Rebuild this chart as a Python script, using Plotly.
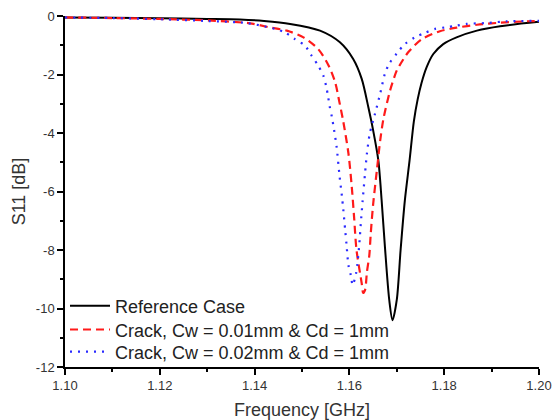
import plotly.graph_objects as go

# Frequency [GHz] and S11 [dB] values
ref_f = [1.100, 1.110, 1.120, 1.130, 1.1369, 1.142, 1.1475, 1.1538, 1.158, 1.1608, 1.1626,
         1.164, 1.165, 1.1661, 1.1668, 1.1675, 1.1684, 1.1691, 1.170, 1.1708, 1.1717,
         1.1727, 1.1736, 1.1744, 1.1752, 1.1763, 1.1777, 1.1798, 1.1826, 1.1869, 1.1918, 1.200]
ref_s = [-0.05, -0.06, -0.08, -0.10, -0.12, -0.17, -0.27, -0.50, -0.90, -1.47, -2.15,
         -3.12, -3.90, -4.93, -6.30, -7.90, -9.70, -10.40, -9.70, -8.00, -6.30,
         -4.93, -3.60, -2.85, -2.30, -1.75, -1.30, -0.96, -0.73, -0.50, -0.35, -0.20]

cw1_f = [1.100, 1.110, 1.120, 1.130, 1.139, 1.1432, 1.1468, 1.1503, 1.1534, 1.1556, 1.157,
         1.1579, 1.1587, 1.1598, 1.1605, 1.161, 1.1615, 1.1626, 1.1629, 1.1633, 1.1637,
         1.1642, 1.1645, 1.165, 1.1658, 1.1665, 1.1672, 1.1686, 1.170, 1.1707, 1.1724,
         1.1753, 1.1791, 1.1826, 1.1869, 1.1918, 1.1974, 1.200]
cw1_s = [-0.05, -0.07, -0.10, -0.15, -0.25, -0.39, -0.50, -0.73, -1.13, -1.69, -2.27,
         -2.95, -3.60, -4.70, -5.84, -6.90, -8.00, -9.14, -9.47, -9.37, -8.75,
         -8.18, -7.45, -6.45, -5.27, -4.25, -3.50, -2.54, -1.86, -1.66, -1.24,
         -0.79, -0.52, -0.40, -0.30, -0.23, -0.18, -0.17]

cw2_f = [1.100, 1.110, 1.120, 1.130, 1.1383, 1.1422, 1.1443, 1.1464, 1.1485, 1.1506, 1.152,
         1.1534, 1.1545, 1.1551, 1.1555, 1.1558, 1.1563, 1.1566, 1.1573, 1.1579, 1.1584,
         1.1587, 1.1591, 1.1594, 1.1598, 1.1603, 1.1607, 1.1614, 1.1617, 1.1621, 1.1624,
         1.1628, 1.1633, 1.1637, 1.1643, 1.1654, 1.1665, 1.1675, 1.1684, 1.170, 1.1717,
         1.1738, 1.1759, 1.1781, 1.1802, 1.1826, 1.1847, 1.189, 1.1932, 1.200]
cw2_s = [-0.05, -0.07, -0.11, -0.17, -0.24, -0.36, -0.44, -0.56, -0.79, -1.01, -1.35,
         -1.69, -2.04, -2.40, -2.75, -3.06, -3.45, -3.73, -4.47, -5.44, -6.13,
         -6.60, -7.30, -7.83, -8.52, -8.86, -9.20, -8.80, -8.46, -7.78, -7.10,
         -6.30, -5.38, -4.70, -4.02, -3.34, -2.65, -1.97, -1.63, -1.28, -0.96,
         -0.73, -0.58, -0.44, -0.39, -0.33, -0.27, -0.24, -0.18, -0.17]

x_ticks = [1.10, 1.12, 1.14, 1.16, 1.18, 1.20]
x_labels = ["1.10", "1.12", "1.14", "1.16", "1.18", "1.20"]
y_ticks = [0, -2, -4, -6, -8, -10, -12]
y_labels = ["0", "-2", "-4", "-6", "-8", "-10", "-12"]

names = ["Reference Case", "Crack, Cw = 0.01mm & Cd = 1mm", "Crack, Cw = 0.02mm & Cd = 1mm"]

FONT = "Liberation Sans, Arial, sans-serif"

fig = go.Figure()
fig.add_trace(go.Scatter(x=ref_f, y=ref_s, mode="lines", name=names[0], legend="legend",
                         line=dict(color="#000000", width=2, shape="spline", smoothing=0.8)))
fig.add_trace(go.Scatter(x=cw1_f, y=cw1_s, mode="lines", name=names[1], legend="legend2",
                         line=dict(color="#ff1a1a", width=2.2, dash="8px,5px", shape="spline", smoothing=0.8)))
fig.add_trace(go.Scatter(x=cw2_f, y=cw2_s, mode="lines", name=names[2], legend="legend3",
                         line=dict(color="#2a2aff", width=2.2, dash="2px,6px", shape="spline", smoothing=0.8)))

axis_common = dict(showline=True, linecolor="#000000", linewidth=1.5, ticks="outside",
                   ticklen=6, tickwidth=1.5, tickcolor="#000000", showgrid=False, zeroline=False,
                   tickfont=dict(family=FONT, size=13, color="#333333"),
                   mirror=False)

fig.update_xaxes(range=[1.10, 1.20], tickvals=x_ticks, ticktext=x_labels,
                 title=dict(text="Frequency [GHz]", font=dict(family=FONT, size=18, color="#333333"), standoff=11),
                 minor=dict(ticks="outside", ticklen=3, tickwidth=1.5, tickcolor="#000000", dtick=0.01),
                 **axis_common)
fig.update_yaxes(range=[-12, 0], tickvals=y_ticks, ticktext=y_labels,
                 title=dict(text="S11 [dB]", font=dict(family=FONT, size=18, color="#333333"), standoff=6),
                 minor=dict(ticks="outside", ticklen=3, tickwidth=1.5, tickcolor="#000000", dtick=1),
                 **axis_common)

leg_common = dict(x=0.0, xanchor="left", yanchor="middle", bgcolor="rgba(0,0,0,0)",
                  font=dict(family=FONT, size=18, color="#222222"), itemwidth=40)

fig.update_layout(
    width=554, height=420,
    margin=dict(l=65, r=15, t=16, b=53, autoexpand=False),
    paper_bgcolor="white", plot_bgcolor="white",
    legend=dict(y=0.174, **leg_common),
    legend2=dict(y=0.106, **leg_common),
    legend3=dict(y=0.043, **leg_common),
    showlegend=True,
)

# remove the default 8px page margin so the figure sits at the window origin
fig.write_html("out.html", config={"displayModeBar": False},
               post_script="document.body.style.margin='0';")
